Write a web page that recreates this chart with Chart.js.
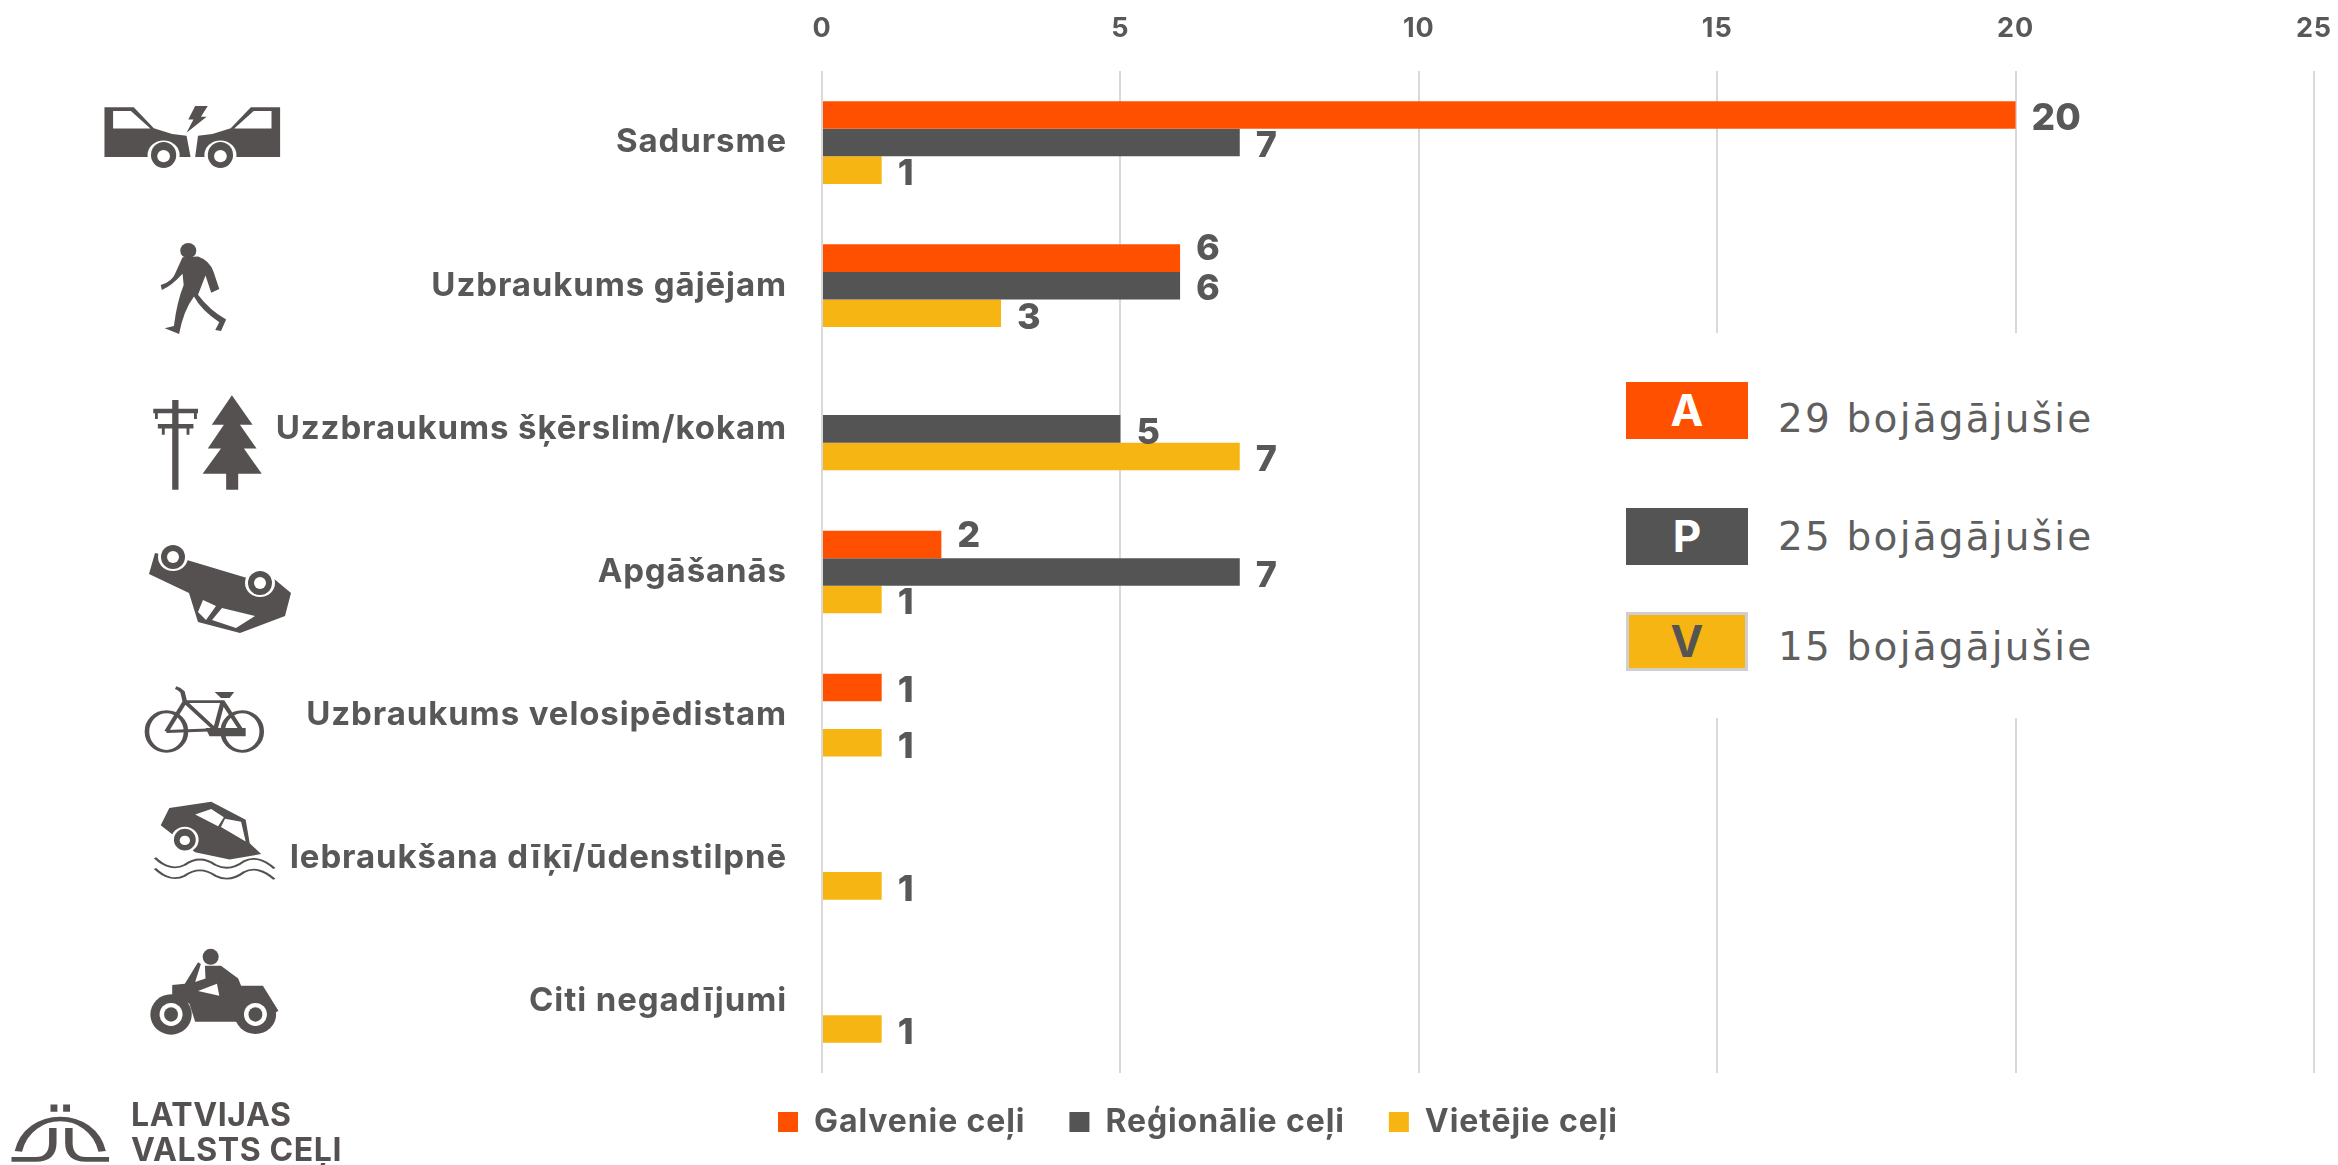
<!DOCTYPE html>
<html>
<head>
<meta charset="utf-8">
<script src="https://cdn.jsdelivr.net/npm/chart.js@4"></script>
<style>
html,body{margin:0;padding:0;background:#fff}
#wrap{position:relative;width:2338px;height:1165px;overflow:hidden}
#canvas{position:absolute;left:0;top:0}
#over{position:absolute;left:0;top:0}
.patch{position:absolute;left:1440px;top:333px;width:830px;height:385px;background:#fff}
.badge{position:absolute;left:1626px;width:122px;height:57px;box-sizing:border-box;text-align:center;font:700 44px/56px Inter;color:#fff}
.count{position:absolute;left:1778px;font:400 39px/44px "DejaVu Sans";letter-spacing:2.2px;color:#5f5f5f;white-space:nowrap}
.logo{position:absolute;left:131px;font:700 32px/30px Inter;letter-spacing:0.6px;color:#555150;white-space:nowrap}
</style>
</head>
<body>
<div id="wrap">
<canvas id="canvas" width="2338" height="1165"></canvas>
<div class="patch"></div>
<div class="badge" style="top:382px;background:#ff5000">A</div>
<div class="count" style="top:397px">29 bojāgājušie</div>
<div class="badge" style="top:508px;background:#545454">P</div>
<div class="count" style="top:515px">25 bojāgājušie</div>
<div class="badge" style="top:612px;height:59px;background:#f6b513;border:3px solid #cfcfcf;color:#545454;line-height:52px">V</div>
<div class="count" style="top:625px">15 bojāgājušie</div>
<div class="logo" style="top:1100px">LATVIJAS</div>
<div class="logo" style="top:1135px">VALSTS CEĻI</div>
<svg id="over" width="2338" height="1165" fill="#555150">
  <!-- icons traced by eye from the crops -->
  <g transform="scale(0.574,0.3827)">
    <!-- crash -->
    <path d="M182,280H233L268,335L300,350L325,355L332,410H182Z"/>
    <path d="M488,280H437L402,335L370,350L345,355L340,410H488Z"/>
    <path d="M197,290H228L262,336H197Z M473,290H442L408,336H473Z" fill="#fff"/>
    <ellipse cx="285" cy="405" rx="28" ry="38" fill="#fff"/><ellipse cx="285" cy="405" rx="22" ry="34"/><ellipse cx="285" cy="408" rx="11" ry="16" fill="#fff"/>
    <ellipse cx="384" cy="405" rx="28" ry="38" fill="#fff"/><ellipse cx="384" cy="405" rx="22" ry="34"/><ellipse cx="384" cy="408" rx="11" ry="16" fill="#fff"/>
    <path d="M340,277H362L350,305H360L325,347L337,312H328Z"/>
    <!-- pedestrian -->
    <ellipse cx="328" cy="655" rx="14" ry="20"/>
    <path d="M318,672L345,670Q365,680 372,710L382,755L368,765L358,720L345,770Q365,810 394,835L385,865L375,862L382,842Q350,810 338,775Q320,810 312,873L287,858L303,852Q308,790 320,745L318,715Q300,745 282,758L280,745Q300,735 305,715Z"/>
    <!-- pole and tree -->
    <path d="M300,1045H311V1280H300Z M267,1068H345V1080H267Z M275,1108H337V1120H275Z M270,1080H275V1095H270Z M338,1080H343V1095H338Z M282,1120H287V1136H282Z M325,1120H330V1136H325Z"/>
    <path d="M404,1033L440,1110H418L447,1172H425L456,1238H415V1280H394V1238H353L385,1172H362L390,1110H369Z"/>
  </g>
  <!-- overturned car -->
  <path d="M155,553L149,574L189,593L198,622L240,633L285,616L291,593L273,578L247,578L187,560Z"/>
  <ellipse cx="173" cy="557" rx="15" ry="14" fill="#fff"/><ellipse cx="173" cy="557" rx="12" ry="12"/><ellipse cx="173" cy="557" rx="6" ry="6" fill="#fff"/>
  <ellipse cx="260" cy="583" rx="15" ry="14" fill="#fff"/><ellipse cx="260" cy="583" rx="12" ry="12"/><ellipse cx="260" cy="583" rx="6" ry="6" fill="#fff"/>
  <path d="M203,600L216,606L206,620L198,612Z M222,608L255,616L236,628L212,620Z" fill="#fff"/>
  <g transform="translate(0,600) scale(0.574,0.3604)">
    <!-- bicycle -->
    <g fill="none" stroke="#555150" stroke-width="8">
      <ellipse cx="290" cy="365" rx="34" ry="55"/><ellipse cx="422" cy="365" rx="34" ry="55"/>
      <path d="M290,365L322,282H388L422,365M322,282L375,360L388,282M375,360L290,365M322,282L318,255Q312,245 306,243"/>
    </g>
    <path d="M374,255H408L400,272H385Z M358,355H428V378H365Z"/>
    <!-- car in water -->
    <path d="M295,577L368,560L428,610L435,675L455,705L400,720L340,700L280,625Z"/>
    <path d="M340,595L368,580L390,603L380,628Z M392,607L420,615L428,670L385,630Z" fill="#fff"/>
    <ellipse cx="322" cy="665" rx="24" ry="36" fill="#fff"/><ellipse cx="322" cy="665" rx="19" ry="30"/><ellipse cx="322" cy="667" rx="9" ry="13" fill="#fff"/>
    <g fill="none" stroke="#555150" stroke-width="5">
      <path d="M270,715Q296,755 322,735Q348,705 375,735Q400,755 425,725Q450,705 478,745"/>
      <path d="M270,745Q296,785 322,765Q348,735 375,765Q400,785 425,755Q450,735 478,775"/>
    </g>
    <!-- motorcycle -->
    <ellipse cx="367" cy="990" rx="14" ry="22"/>
    <path d="M357,1015L385,1015L415,1050L420,1070H458L485,1140L475,1150L440,1110L415,1170H340L330,1120L300,1095V1068L322,1065L345,1005L350,1010L340,1060L358,1050Z"/>
    <path d="M345,1085L378,1065L382,1098Z" fill="#fff"/>
    <ellipse cx="298" cy="1150" rx="36" ry="56"/><ellipse cx="298" cy="1150" rx="20" ry="32" fill="#fff"/><ellipse cx="298" cy="1150" rx="12" ry="20"/>
    <ellipse cx="445" cy="1150" rx="36" ry="54"/><ellipse cx="445" cy="1150" rx="20" ry="32" fill="#fff"/><ellipse cx="445" cy="1150" rx="12" ry="20"/>
    <!-- logo -->
    <path d="M88,1400H100V1420H88Z M110,1400H122V1420H110Z"/>
    <g fill="none" stroke="#555150" stroke-width="13">
      <path d="M32,1530C50,1410 160,1410 178,1530"/>
      <path d="M20,1552H62Q92,1552 92,1505V1465M190,1552H150Q120,1552 120,1505V1465"/>
    </g>
  </g>
</svg>
</div>
<script>
const categories = ['Sadursme', 'Uzbraukums gājējam', 'Uzzbraukums šķērslim/kokam', 'Apgāšanās', 'Uzbraukums velosipēdistam', 'Iebraukšana dīķī/ūdenstilpnē', 'Citi negadījumi']
const galvenie = [20, 6, null, 2, 1, null, null]
const regionalie = [7, 6, 5, 7, null, null, null]
const vietejie = [1, 3, 7, 1, 1, 1, 1]
const xTicks = [0, 5, 10, 15, 20, 25]

const grey = '#585858'
const family = 'Inter'

// value labels, a few sit higher than the bar centre in the original
const labelNudge = [
    [4, -9, 0, -8, 4, 0, 0],
    [4, 3, 4, 4, 0, 0, 0],
    [4, 5, 4, 4, 4, 4, 4],
]

const valueLabels = {
    id: 'valueLabels',
    beforeDraw(chart) {
        // the original face is wider than anything installed
        chart.ctx.letterSpacing = '0.9px'
    },
    afterDatasetsDraw(chart) {
        const ctx = chart.ctx
        ctx.save()
        ctx.letterSpacing = '0px'
        ctx.fillStyle = grey
        ctx.textBaseline = 'middle'
        ctx.textAlign = 'left'
        chart.data.datasets.forEach((ds, i) => {
            chart.getDatasetMeta(i).data.forEach((bar, j) => {
                if (ds.data[j] === null) return
                ctx.font = (ds.data[j] === 20 ? '800 37px ' : '800 36px ') + family
                ctx.fillText(ds.data[j], bar.x + 16, bar.y + labelNudge[i][j])
            })
        })
        ctx.restore()
    },
}

const moveLegend = {
    id: 'moveLegend',
    afterLayout(chart) {
        const lg = chart.legend
        const pad = lg.options.labels.padding
        const h = lg.height
        lg.left = 778 - pad
        lg.right = lg.left + lg.width
        lg.top = 1106 - pad
        lg.bottom = lg.top + h
    },
}

const chart = new Chart(document.getElementById('canvas').getContext('2d'), {
    type: 'bar',
    data: {
        labels: categories,
        datasets: [
            {label: 'Galvenie ceļi', data: galvenie, backgroundColor: '#ff5000'},
            {label: 'Reģionālie ceļi', data: regionalie, backgroundColor: '#545454'},
            {label: 'Vietējie ceļi', data: vietejie, backgroundColor: '#f6b513'},
        ],
    },
    plugins: [valueLabels, moveLegend],
    options: {
        indexAxis: 'y',
        responsive: false,
        animation: false,
        datasets: {bar: {categoryPercentage: 0.578, barPercentage: 1}},
        layout: {padding: {left: 0, right: 0, top: 0, bottom: 6}},
        plugins: {
            tooltip: {enabled: false},
            legend: {
                position: 'bottom',
                align: 'start',
                labels: {
                    boxWidth: 20,
                    boxHeight: 20,
                    padding: 44,
                    color: grey,
                    font: {family, size: 32, weight: '700'},
                },
            },
        },
        scales: {
            x: {
                position: 'top',
                min: 0,
                max: 25,
                afterBuildTicks(axis) { axis.ticks = xTicks.map(value => ({value})) },
                afterFit(axis) {
                    axis.height = 71
                    // tick padding would otherwise eat into the right margin
                    axis.paddingRight = 24
                },
                border: {display: false},
                grid: {color: '#d9d9d9', lineWidth: 2, drawTicks: false},
                ticks: {
                    maxRotation: 0,
                    padding: 26,
                    color: grey,
                    font: {family, size: 27, weight: '700'},
                },
            },
            y: {
                afterFit(axis) { axis.width = 822 },
                border: {display: false},
                grid: {display: false, drawTicks: false},
                ticks: {
                    padding: 35,
                    color: grey,
                    font: {family, size: 33, weight: '700'},
                },
            },
        },
    },
})
</script>
</body>
</html>
